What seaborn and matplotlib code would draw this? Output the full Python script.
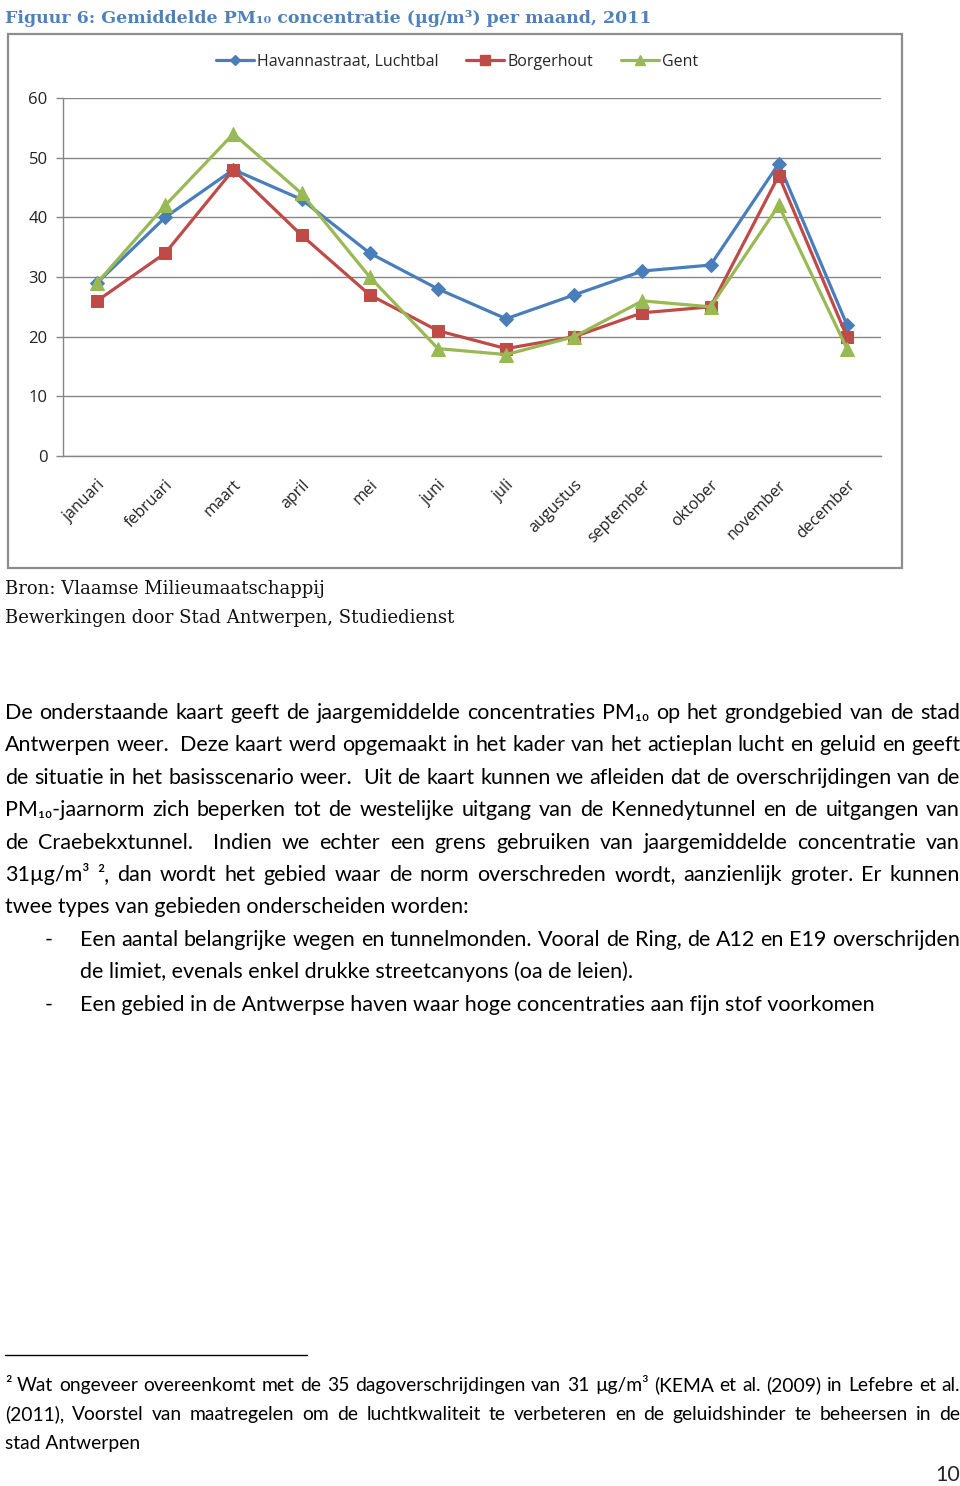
import matplotlib
matplotlib.use("Agg")
import matplotlib.pyplot as plt
from matplotlib.patches import Rectangle
from matplotlib.lines import Line2D
import seaborn as sns
import pandas as pd

# ---------------- data ----------------
months = ["januari", "februari", "maart", "april", "mei", "juni", "juli",
          "augustus", "september", "oktober", "november", "december"]
havannastraat = [29, 40, 48, 43, 34, 28, 23, 27, 31, 32, 49, 22]
borgerhout = [26, 34, 48, 37, 27, 21, 18, 20, 24, 25, 47, 20]
gent = [29, 42, 54, 44, 30, 18, 17, 20, 26, 25, 42, 18]
series_names = ["Havannastraat, Luchtbal", "Borgerhout", "Gent"]
y_ticks = [0, 10, 20, 30, 40, 50, 60]

title = "Figuur 6: Gemiddelde PM\u2081\u2080 concentratie (\u00b5g/m\u00b3) per maand, 2011"
source_lines = ["Bron: Vlaamse Milieumaatschappij",
                "Bewerkingen door Stad Antwerpen, Studiedienst"]
body_lines = [
    "De onderstaande kaart geeft de jaargemiddelde concentraties PM\u2081\u2080 op het grondgebied van de stad",
    "Antwerpen weer.  Deze kaart werd opgemaakt in het kader van het actieplan lucht en geluid en geeft",
    "de situatie in het basisscenario weer.  Uit de kaart kunnen we afleiden dat de overschrijdingen van de",
    "PM\u2081\u2080-jaarnorm zich beperken tot de westelijke uitgang van de Kennedytunnel en de uitgangen van",
    "de Craebekxtunnel.  Indien we echter een grens gebruiken van jaargemiddelde concentratie van",
    "31\u00b5g/m\u00b3 \u00b2, dan wordt het gebied waar de norm overschreden wordt, aanzienlijk groter. Er kunnen",
]
body_last = "twee types van gebieden onderscheiden worden:"
bullet1 = ["Een aantal belangrijke wegen en tunnelmonden. Vooral de Ring, de A12 en E19 overschrijden",
           "de limiet, evenals enkel drukke streetcanyons (oa de leien)."]
bullet2 = "Een gebied in de Antwerpse haven waar hoge concentraties aan fijn stof voorkomen"
foot_lines = ["\u00b2 Wat ongeveer overeenkomt met de 35 dagoverschrijdingen van 31 \u00b5g/m\u00b3 (KEMA et al. (2009) in Lefebre et al.",
              "(2011), Voorstel van maatregelen om de luchtkwaliteit te verbeteren en de geluidshinder te beheersen in de",
              "stad Antwerpen"]
page_no = "10"

df = pd.DataFrame({
    "maand": list(range(len(months))) * 3,
    "waarde": havannastraat + borgerhout + gent,
    "station": [series_names[0]] * 12 + [series_names[1]] * 12 + [series_names[2]] * 12,
})

# ---------------- style ----------------
sns.set_theme(style="white")
plt.rcParams["font.family"] = ["Liberation Sans", "DejaVu Sans"]
SANS = ["Lato", "DejaVu Sans"]
SERIF = ["DejaVu Serif"]

colors = {series_names[0]: "#4A7EBB", series_names[1]: "#BE4B48", series_names[2]: "#98B954"}
markers = {series_names[0]: "D", series_names[1]: "s", series_names[2]: "^"}
msizes = {series_names[0]: 7, series_names[1]: 9, series_names[2]: 9.5}
grid_c = "#868686"

W, H = 960, 1486
fig = plt.figure(figsize=(W / 100, H / 100), dpi=100)
renderer = fig.canvas.get_renderer()


def fx(x):
    return x / W


def fy(y):
    return 1 - y / H


# chart outer box
fig.patches.append(Rectangle((fx(8), fy(568)), fx(902) - fx(8), fy(34) - fy(568),
                             transform=fig.transFigure, fill=False,
                             edgecolor="#8c8c8c", linewidth=1.6))

ax = fig.add_axes([fx(63), fy(456), fx(881) - fx(63), fy(98) - fy(456)])
for name in series_names:
    sub = df[df["station"] == name]
    sns.lineplot(data=sub, x="maand", y="waarde", ax=ax, color=colors[name],
                 marker=markers[name], markersize=msizes[name], linewidth=2.3,
                 markeredgecolor=colors[name], legend=False)

ax.set_xlim(-0.5, len(months) - 0.5)
ax.set_ylim(0, 60)
ax.set_yticks(y_ticks)
ax.set_yticklabels([str(v) for v in y_ticks], fontsize=12, color="#222222",
                   family=["Open Sans", "DejaVu Sans"])
ax.yaxis.grid(True, color=grid_c, linewidth=1)
ax.xaxis.grid(False)
ax.set_xticks(range(len(months)))
ax.set_xticklabels(months, rotation=45, ha="right", va="top", rotation_mode="anchor",
                   fontsize=11.5, color="#222222", family=["Open Sans", "DejaVu Sans"])
ax.set_xticks([i - 0.5 for i in range(len(months) + 1)], minor=True)
ax.tick_params(axis="x", which="major", length=0, pad=15)
ax.tick_params(axis="x", which="minor", length=5, color=grid_c, width=1, direction="out")
ax.tick_params(axis="y", which="major", length=5, color=grid_c, width=1, direction="out", pad=6, left=True)
ax.set_xlabel("")
ax.set_ylabel("")
for s in ["top", "right"]:
    ax.spines[s].set_visible(False)
for s in ["left", "bottom"]:
    ax.spines[s].set_color(grid_c)
    ax.spines[s].set_linewidth(1)

handles = [Line2D([0], [0], color=colors[n], marker=markers[n], markersize=msizes[n] * 0.75,
                  linewidth=2.3) for n in series_names]
fig.legend(handles, series_names, loc="center", bbox_to_anchor=(fx(457), fy(62)),
           ncol=3, frameon=False, handlelength=2.4, handletextpad=0.2,
           columnspacing=1.7, prop={"family": ["Open Sans", "DejaVu Sans"], "size": 11.5})

# ---------------- page text ----------------
fig.text(fx(5), fy(23), title, fontsize=12.5, fontweight="bold", color="#4F81BD",
         family=SERIF, va="baseline", ha="left")
fig.text(fx(5), fy(594), source_lines[0], fontsize=13.0, family=SERIF, va="baseline", color="#111111")
fig.text(fx(5), fy(623), source_lines[1], fontsize=13.0, family=SERIF, va="baseline", color="#111111")


def put(x, y, s, size, **kw):
    return fig.text(fx(x), fy(y), s, fontsize=size, family=SANS, va="baseline",
                    ha="left", color="#000000", **kw)


def justify(line, x0, x1, y, size):
    words = line.split(" ")
    texts = [put(0, y, w, size) for w in words]
    widths = [t.get_window_extent(renderer).width if w else 0 for t, w in zip(texts, words)]
    gap = (x1 - x0 - sum(widths)) / (len(words) - 1)
    x = x0
    for t, w in zip(texts, widths):
        t.set_x(fx(x))
        x += w + gap


BS = 15.5
base = 719
step = 32.4
for i, line in enumerate(body_lines):
    justify(line, 5, 960, base + i * step, BS)
put(5, base + 6 * step, body_last, BS)
put(45, base + 7 * step, "-", BS)
justify(bullet1[0], 80, 960, base + 7 * step, BS)
put(80, base + 8 * step, bullet1[1], BS)
put(45, base + 9 * step, "-", BS)
put(80, base + 9 * step, bullet2, BS)

fig.add_artist(Line2D([fx(5), fx(307)], [fy(1355), fy(1355)], color="black", linewidth=1,
                      transform=fig.transFigure))
FS = 13.9
justify(foot_lines[0], 5, 960, 1391, FS)
justify(foot_lines[1], 5, 960, 1420, FS)
put(5, 1449, foot_lines[2], FS)
fig.text(fx(960), fy(1481), page_no, fontsize=15.5, family=SANS, ha="right", va="baseline")

fig.savefig("out.png", dpi=100)
